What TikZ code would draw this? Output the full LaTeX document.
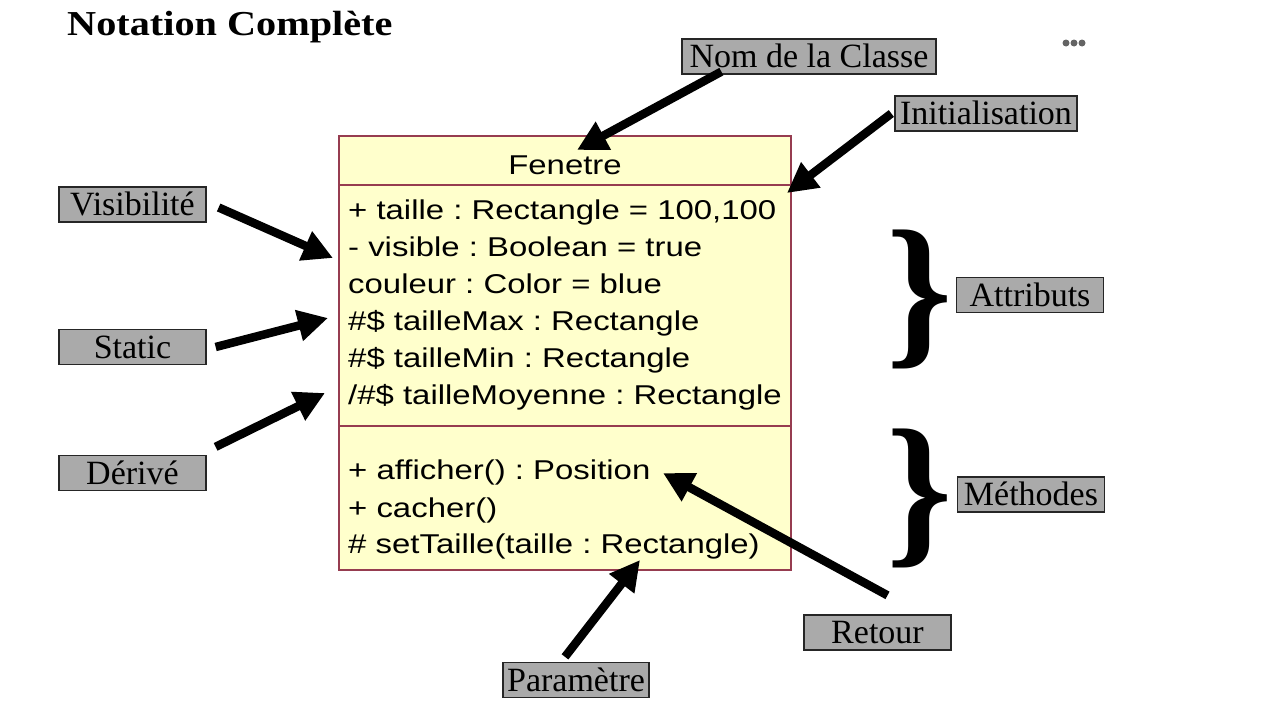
\documentclass[tikz,border=0pt]{standalone}
\usepackage{fontspec}
\setmainfont{Liberation Serif}
\newfontfamily\umlfont[FakeStretch=1.21]{Liberation Sans}
\newfontfamily\titlefont[FakeStretch=1.15]{Liberation Serif}
\usetikzlibrary{arrows.meta}
\usetikzlibrary{positioning}
\tikzset{>={Triangle[length=30pt,width=30pt]}}
\frenchspacing
\definecolor{umlfill}{RGB}{255,255,204}
\definecolor{umlborder}{RGB}{150,60,80}
\definecolor{notegray}{RGB}{170,170,170}
\definecolor{dotgray}{RGB}{100,100,100}
\tikzset{
    note/.style={draw=black!85, line width=1.3pt, fill=notegray, inner sep=0pt,
        minimum width=147pt, minimum height=35pt, text height=22pt, text depth=0pt,
        font=\fontsize{34}{34}\selectfont},
    member/.style={anchor=base west, inner sep=0pt, font=\umlfont\fontsize{27.2}{27.2}\selectfont},
    pointer/.style={->, line width=8.5pt},
    accolade/.style={inner sep=0pt, font=\bfseries\fontsize{168}{168}\selectfont}
}

\begin{document}
\begin{tikzpicture}[x=1pt,y=-1pt]
    \useasboundingbox (0,0) rectangle (1282,707);
    \node[anchor=base west, inner sep=0pt, font=\titlefont\bfseries\fontsize{35}{35}\selectfont] (titre) at (67,35) {Notation Complète};
    \fill[dotgray] (1066,43) circle (3.5pt) (1074,43) circle (3.5pt) (1082,43) circle (3.5pt);

    \node[draw=umlborder, fill=umlfill, line width=1.2pt, minimum width=452pt, minimum height=434pt, inner sep=0pt] (fenetre) at (565,353) {};
    \draw[umlborder, line width=1.2pt] (339,185) -- (791,185);
    \draw[umlborder, line width=1.2pt] (339,426) -- (791,426);
    \node[member, anchor=base] (nomclasse) at (565,174) {Fenetre};
    \node[member] (a1) at (348,219) {+ taille : Rectangle = 100,100};
    \node[member] (a2) at (348,256) {- visible : Boolean = true};
    \node[member] (a3) at (348,293) {couleur : Color = blue};
    \node[member] (a4) at (348,330) {\#\$ tailleMax : Rectangle};
    \node[member] (a5) at (348,367) {\#\$ tailleMin : Rectangle};
    \node[member] (a6) at (348,404) {/\#\$ tailleMoyenne : Rectangle};
    \node[member] (m1) at (348,479) {+ afficher() : Position};
    \node[member] (m2) at (348,517) {+ cacher()};
    \node[member] (m3) at (348,553) {\# setTaille(taille : Rectangle)};

    \node[note, minimum width=254pt] (nom) at (809,56.5) {Nom de la Classe};
    \node[note, minimum width=182pt] (init) at (986,113.5) {Initialisation};
    \node[note] (visib) at (132.5,204.5) {Visibilité};
    \node[note] (static) at (132.5,347) {Static};
    \node[note] (derive) at (132.5,473) {Dérivé};
    \node[note] (attr) at (1030,295) {Attributs};
    \node[note] (meth) at (1031,494.5) {Méthodes};
    \node[note] (retour) at (877.5,632.5) {Retour};
    \node[note, minimum width=146pt] (param) at (576,680) {Paramètre};

    \node[accolade] (accattr) at (920,299) {\}};
    \node[accolade] (accmeth) at (920,498) {\}};

    \coordinate (nomtip) at (577,150);
    \coordinate (inittip) at (787,193);
    \coordinate (visibtip) at (333,258);
    \coordinate (statictip) at (328,318);
    \coordinate (derivetip) at (325,393);
    \coordinate (retourtip) at (663,473);
    \coordinate (paramtip) at (640,560);
    \draw[pointer] ([xshift=40pt,yshift=3pt]nom.south west) -- (nomtip);
    \draw[pointer] ([xshift=-3pt]init.west) -- (inittip);
    \draw[pointer] ([xshift=12pt,yshift=-3pt]visib.east) -- (visibtip);
    \draw[pointer] ([xshift=9pt]static.east) -- (statictip);
    \draw[pointer] ([xshift=9pt,yshift=8pt]derive.north east) -- (derivetip);
    \draw[pointer] ([xshift=10pt,yshift=19pt]retour.north) -- (retourtip);
    \draw[pointer] ([xshift=-11pt,yshift=5pt]param.north) -- (paramtip);
\end{tikzpicture}
\end{document}
